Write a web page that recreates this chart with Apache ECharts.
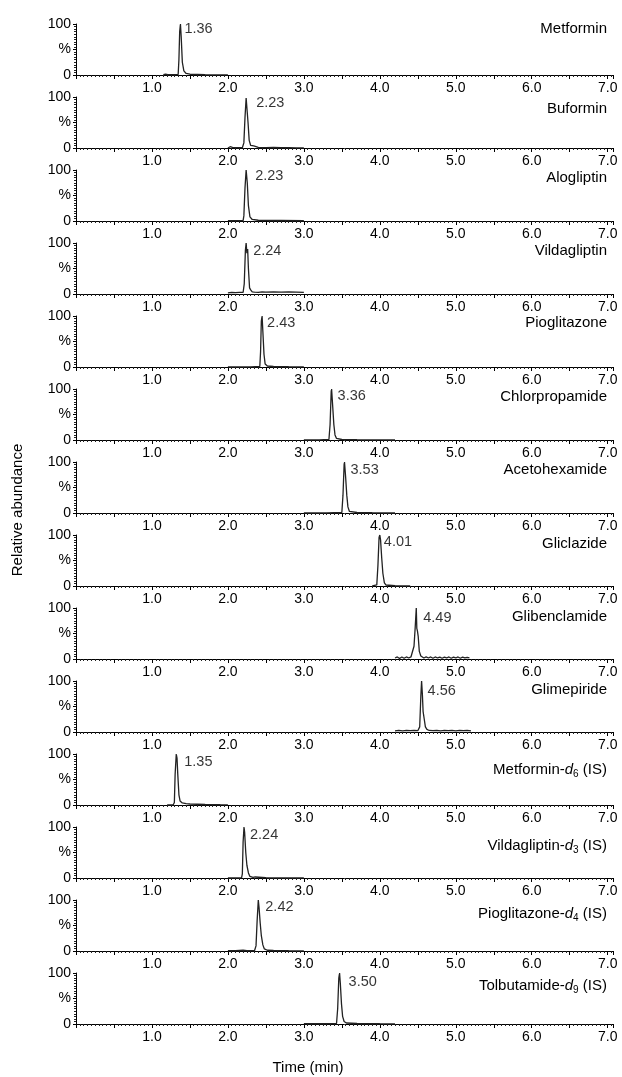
<!DOCTYPE html>
<html>
<head>
<meta charset="utf-8">
<script src="https://cdn.jsdelivr.net/npm/echarts@6.0.0/dist/echarts.min.js"></script>
<style>
html,body{margin:0;padding:0;background:#fff;}
#chart{width:622px;height:1077px;}
</style>
</head>
<body>
<div id="chart"></div>
<script>
// ---------- DATA ----------
const compounds = ['Metformin','Buformin','Alogliptin','Vildagliptin','Pioglitazone','Chlorpropamide','Acetohexamide','Gliclazide','Glibenclamide','Glimepiride','Metformin-d6 (IS)','Vildagliptin-d3 (IS)','Pioglitazone-d4 (IS)','Tolbutamide-d9 (IS)'];
const rtLabels = ['1.36','2.23','2.23','2.24','2.43','3.36','3.53','4.01','4.49','4.56','1.35','2.24','2.42','3.50'];
const xTickLabels = ['1.0','2.0','3.0','4.0','5.0','6.0','7.0'];
const yTickLabels = {0:'0',50:'%',100:'100'};

const metformin = [[1.15,0.5],[1.18,1.5],[1.21,0.8],[1.25,0.5],[1.3,0.5],[1.345,1],[1.355,30],[1.365,85],[1.375,100],[1.385,75],[1.4,25],[1.42,8],[1.45,3],[1.5,1.5],[1.6,1],[1.7,0.5],[2.0,0.3]];
const buformin = [[2.0,0],[2.03,2.5],[2.06,1],[2.1,0.5],[2.19,0.5],[2.21,10],[2.225,60],[2.24,98],[2.25,95],[2.265,50],[2.28,15],[2.3,5],[2.32,3],[2.34,4],[2.36,2],[2.4,1],[2.5,0.5],[2.6,1],[2.7,0.5],[2.8,0.5],[2.9,0.3],[3.0,0]];
const alogliptin = [[2.0,0.5],[2.1,0.5],[2.2,0.8],[2.21,10],[2.225,65],[2.24,100],[2.255,75],[2.27,30],[2.29,8],[2.32,3],[2.4,1.5],[2.5,1],[2.7,1],[3.0,0.5]];
const vildagliptin = [[2.0,2],[2.05,3],[2.1,2.5],[2.15,3],[2.2,3],[2.215,20],[2.23,85],[2.24,100],[2.25,80],[2.26,88],[2.27,50],[2.285,12],[2.3,8],[2.32,4],[2.35,3.5],[2.4,3],[2.45,4],[2.5,3.5],[2.6,4],[2.7,3.5],[2.8,4],[2.9,3.5],[3.0,3]];
const pioglitazone = [[2.0,0],[2.3,0.3],[2.42,1],[2.43,30],[2.44,90],[2.45,100],[2.46,70],[2.475,25],[2.49,6],[2.52,2],[2.6,1],[2.8,0.5],[3.0,0.3]];
const chlorpropamide = [[3.0,0],[3.2,0.3],[3.33,1],[3.345,30],[3.36,95],[3.365,100],[3.38,65],[3.395,30],[3.41,10],[3.43,3],[3.5,1],[3.7,0.5],[4.0,0.3],[4.2,0]];
const acetohexamide = [[3.0,0],[3.3,0.3],[3.5,1],[3.515,35],[3.53,95],[3.535,100],[3.55,70],[3.565,35],[3.58,12],[3.6,3],[3.7,1],[3.9,0.5],[4.2,0]];
const gliclazide = [[3.9,0.3],[3.96,2],[3.975,40],[3.99,95],[4.0,100],[4.01,90],[4.025,55],[4.04,25],[4.06,6],[4.08,2],[4.2,0.5],[4.4,0.2]];
const glibenclamide = [[4.2,2],[4.23,4],[4.26,1],[4.29,4],[4.32,1.5],[4.35,4],[4.38,2],[4.41,4],[4.43,3],[4.45,25],[4.465,60],[4.48,100],[4.487,60],[4.495,55],[4.505,45],[4.52,15],[4.54,6],[4.56,4],[4.58,2],[4.61,4],[4.64,2],[4.67,4],[4.7,1.5],[4.73,4],[4.76,2],[4.79,3.5],[4.82,1.5],[4.85,3.5],[4.88,2],[4.91,4],[4.94,1.5],[4.97,3.5],[5.0,2],[5.03,4],[5.06,1.5],[5.09,3.5],[5.12,2],[5.15,3],[5.18,2]];
const glimepiride = [[4.2,2],[4.25,3],[4.3,2],[4.35,3],[4.4,2.5],[4.45,3],[4.5,2.5],[4.525,10],[4.54,70],[4.55,100],[4.56,75],[4.57,40],[4.585,25],[4.6,10],[4.62,5],[4.65,3],[4.7,2.5],[4.75,3],[4.8,2],[4.85,3],[4.9,2.5],[4.95,3],[5.0,2],[5.05,3],[5.1,2.5],[5.15,3],[5.2,2]];
const metforminD6 = [[1.2,0],[1.28,0.5],[1.295,5],[1.305,60],[1.32,100],[1.33,92],[1.34,60],[1.355,20],[1.37,8],[1.4,4],[1.45,2.5],[1.5,2],[1.6,1.5],[1.7,1],[1.8,0.8],[1.9,0.5],[2.0,0.3]];
const vildagliptinD3 = [[2.0,0],[2.18,0.5],[2.19,8],[2.2,70],[2.212,100],[2.22,90],[2.235,50],[2.25,25],[2.27,10],[2.29,3],[2.33,1],[2.36,2],[2.38,1],[2.5,0.5],[3.0,0]];
const pioglitazoneD4 = [[2.0,0.5],[2.1,0.5],[2.2,1.5],[2.25,0.5],[2.35,0.5],[2.37,10],[2.385,60],[2.4,100],[2.41,85],[2.425,55],[2.44,30],[2.46,12],[2.48,4],[2.52,1.5],[2.6,1],[2.8,0.5],[3.0,0.3]];
const tolbutamideD9 = [[3.0,0.5],[3.2,0.5],[3.43,1],[3.445,30],[3.46,90],[3.47,100],[3.48,80],[3.495,40],[3.51,15],[3.53,5],[3.56,2],[3.7,1],[4.0,0.5],[4.2,0.3]];

const traces = [metformin,buformin,alogliptin,vildagliptin,pioglitazone,chlorpropamide,acetohexamide,gliclazide,glibenclamide,glimepiride,metforminD6,vildagliptinD3,pioglitazoneD4,tolbutamideD9];

// ---------- LAYOUT ----------
const PANEL_TOP = 24, PANEL_STEP = 73, PANEL_H = 51, LEFT = 76, WIDTH = 537;
const titleDy = [5,12,8,8,7,8,8,9,9,9,16,19,14,13];
const peakDx = [4,10,9,7,5,6,6,4,7,6,8,6,7,9];
const peakDy = [5,5,6,8,7,7,8,7,10,10,8,8,7,9];
const FONT = '"Liberation Sans", Arial, Helvetica, sans-serif';
const INK = '#000';

function richName(name){
  const m = name.match(/^(.*)-d(\d) \(IS\)$/);
  if(!m) return '{n|' + name + '}';
  return '{n|' + m[1] + '-}{i|d}{s|' + m[2] + '}{n| (IS)}';
}

const grids = [], xAxes = [], yAxes = [], series = [], graphics = [];
traces.forEach((tr, i) => {
  const top = PANEL_TOP + PANEL_STEP * i;
  grids.push({left: LEFT, width: WIDTH, top: top, height: PANEL_H, containLabel: false, outerBoundsMode: 'none'});
  xAxes.push({
    type: 'value', gridIndex: i, min: 0, max: 7.07, interval: 0.5,
    axisLine: {show: true, onZero: false, lineStyle: {color: INK, width: 1}},
    axisTick: {show: true, length: 4, lineStyle: {color: INK, width: 1}},
    minorTick: {show: true, splitNumber: 10, length: 2, lineStyle: {color: '#222', width: 1}},
    splitLine: {show: false},
    axisLabel: {
      show: true, margin: 6, fontSize: 14, fontFamily: FONT, color: INK, hideOverlap: false,
      showMinLabel: true, showMaxLabel: true,
      formatter: v => {
        const r = Math.round(v);
        if (Math.abs(v - r) < 1e-6 && r >= 1 && r <= 7) return xTickLabels[r - 1];
        return '';
      }
    }
  });
  yAxes.push({
    type: 'value', gridIndex: i, min: 0, max: 100, interval: 50,
    axisLine: {show: true, onZero: false, lineStyle: {color: INK, width: 1}},
    axisTick: {show: true, length: 3, lineStyle: {color: INK, width: 1}},
    minorTick: {show: true, splitNumber: 10, length: 2, lineStyle: {color: '#222', width: 1}},
    splitLine: {show: false},
    axisLabel: {margin: 5, fontSize: 14, fontFamily: FONT, color: INK,
      formatter: v => (yTickLabels[Math.round(v)] !== undefined ? yTickLabels[Math.round(v)] : '')}
  });
  series.push({
    type: 'line', xAxisIndex: i, yAxisIndex: i, data: tr,
    showSymbol: false, symbol: 'none', silent: true, animation: false,
    lineStyle: {width: 1.3, color: '#222'}
  });
  let peak = tr[0];
  tr.forEach(p => { if (p[1] > peak[1]) peak = p; });
  series.push({
    type: 'scatter', xAxisIndex: i, yAxisIndex: i, data: [[peak[0], peak[1]]],
    symbol: 'circle', symbolSize: 0, silent: true, animation: false,
    itemStyle: {color: 'rgba(0,0,0,0)'},
    label: {show: true, position: 'right', distance: peakDx[i], offset: [0, peakDy[i]],
      formatter: rtLabels[i], fontSize: 14.5, fontFamily: FONT, color: INK}
  });
  graphics.push({
    type: 'text', x: 607, y: top + titleDy[i], silent: true,
    style: {
      text: richName(compounds[i]), align: 'right', verticalAlign: 'middle',
      fill: INK, font: '15px ' + FONT,
      rich: {
        n: {fontSize: 15, fontFamily: FONT, color: INK, lineHeight: 18},
        i: {fontSize: 15, fontFamily: FONT, color: INK, fontStyle: 'italic', lineHeight: 18},
        s: {fontSize: 10, fontFamily: FONT, color: INK, lineHeight: 10, verticalAlign: 'bottom'}
      }
    }
  });
});

graphics.push({
  type: 'text', x: 18, y: 510, rotation: Math.PI / 2, silent: true,
  style: {text: 'Relative abundance', align: 'center', verticalAlign: 'middle', fill: INK, font: '15px ' + FONT}
});
graphics.push({
  type: 'text', x: 308, y: 1068, silent: true,
  style: {text: 'Time (min)', align: 'center', verticalAlign: 'middle', fill: INK, font: '15px ' + FONT}
});

const chart = echarts.init(document.getElementById('chart'), null, {renderer: 'canvas'});
chart.setOption({
  animation: false,
  backgroundColor: '#fff',
  grid: grids, xAxis: xAxes, yAxis: yAxes, series: series, graphic: graphics
});
</script>
</body>
</html>
